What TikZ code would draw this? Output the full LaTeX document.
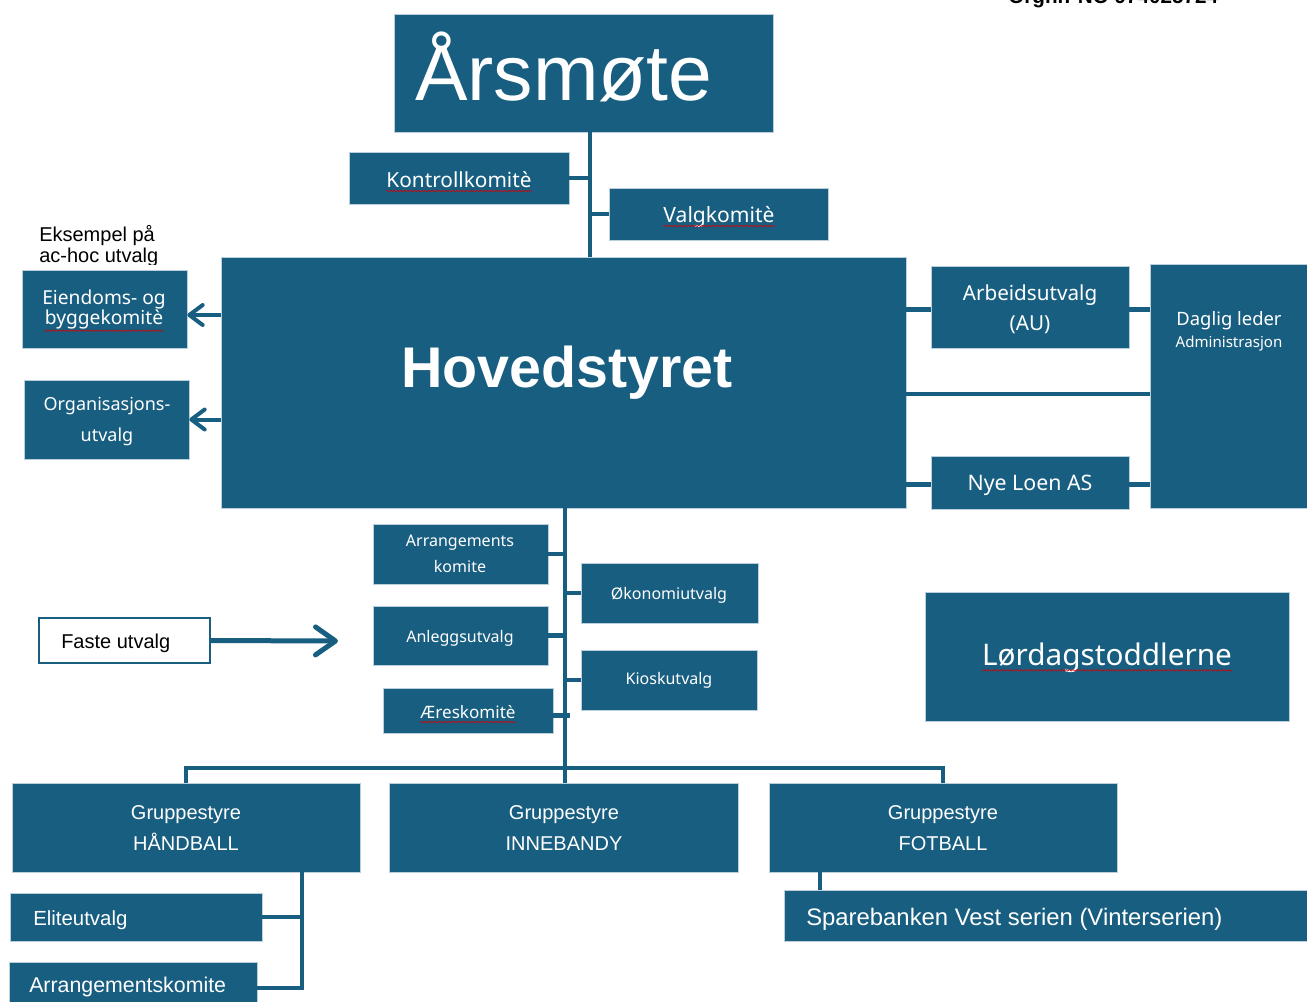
\documentclass[tikz,border=0pt]{standalone}
\usepackage{fontspec}
\setmainfont{Liberation Sans}
\newfontfamily\aptos{Noto Sans}
\usetikzlibrary{fit,arrows.meta,decorations.pathmorphing}
\definecolor{main}{RGB}{24,94,128}
\newcommand\Bx[5]{\node[box, fit={(#2,#3)(#4,#5)}] (#1) {};}
\newcommand\fs[1]{\fontsize{#1}{#1}\selectfont}
\begin{document}
\begin{tikzpicture}[x=0.75pt,y=-0.75pt,
  box/.style={fill=main, draw=white!70!main, line width=0.5pt, inner sep=0pt},
  conn/.style={draw=main, line width=3.6pt},
  wt/.style={text=white, inner sep=0pt, anchor=base},
  at/.style={wt, font=\aptos\fs{#1}},
  ar/.style={wt, font=\fs{#1}},
  sq/.style={draw=red!85!black, line width=0.45pt, decorate, decoration={snake, amplitude=0.55pt, segment length=2.6pt}},
  arrA/.style={draw=main, line width=3pt, -{Straight Barb[length=10pt, width=15pt, round]}},
  arrB/.style={draw=main, line width=3.75pt, -{Straight Barb[length=15pt, width=21pt, round]}}]
\useasboundingbox (0,0) rectangle (1307,1001);
\fill[white] (0,0) rectangle (1307,1001);

% heading at top right, cut off by the page edge as in the reference
\node[anchor=base west, inner sep=0pt, font=\bfseries\fs{15.5}] (orgnr) at (1008,3) {Orgnr. NO 974025724};

% example label (clipped at bottom)
\begin{scope}
  \clip (0,200) rectangle (220,264);
  \node[anchor=base west, inner sep=0pt, font=\fs{15}] (eks1) at (39,241) {Eksempel på};
  \node[anchor=base west, inner sep=0pt, font=\fs{15}] (eks2) at (39,262) {ac-hoc utvalg};
\end{scope}

% boxes
\Bx{ars}{394}{14}{773}{132}
\Bx{kon}{349}{152}{569}{204}
\Bx{val}{609}{188}{828}{240}
\Bx{hov}{221}{257}{906}{508}
\Bx{eie}{22}{270}{187}{348}
\Bx{org}{24}{380}{189}{459}
\Bx{au}{931}{266}{1129}{348}
\Bx{dag}{1150}{264}{1312}{508}
\Bx{nye}{931}{456}{1129}{509}
\Bx{arr}{373}{524}{548}{584}
\Bx{oko}{581}{563}{758}{623}
\Bx{anl}{373}{606}{548}{665}
\Bx{kio}{581}{650}{757}{710}
\Bx{aer}{383}{688}{553}{733}
\Bx{lor}{925}{592}{1289}{721}
\Bx{hb}{12}{783}{360}{872}
\Bx{inn}{389}{783}{738}{872}
\Bx{fb}{769}{783}{1117}{872}
\Bx{eli}{10}{893}{262}{941}
\Bx{ark}{9}{962}{257}{1014}
\Bx{spa}{784}{890}{1312}{941}
\node[draw=main, line width=1.2pt, fill=white, inner sep=0pt, fit={(39,618)(210,663)}] (fas) {};

% coordinates for connector lines
\coordinate (v1) at (590,0);
\coordinate (mid) at (1000,394);
\coordinate (bus) at (565,768);
\coordinate (hv) at (302,0);
\coordinate (fv) at (820,0);
\coordinate (fastetip) at (338,641);

% connectors
\draw[conn] (ars.south -| v1) -- (hov.north -| v1);
\draw[conn] (kon.east) -- (kon.east -| v1);
\draw[conn] (val.west) -- (val.west -| v1);
\draw[arrA] ([yshift=-4.5pt]eie.east -| hov.west) -- ([yshift=-4.5pt]eie.east);
\draw[arrA] (org.east -| hov.west) -- (org.east);
\draw[conn] ([yshift=-2pt]au.west -| hov.east) -- ([yshift=-2pt]au.west);
\draw[conn] ([yshift=-2pt]au.east) -- ([yshift=-2pt]au.east -| dag.west);
\draw[conn] (mid -| hov.east) -- (mid -| dag.west);
\draw[conn] ([yshift=-1.5pt]nye.west -| hov.east) -- ([yshift=-1.5pt]nye.west);
\draw[conn] ([yshift=-1.5pt]nye.east) -- ([yshift=-1.5pt]nye.east -| dag.west);
\draw[conn] (hov.south -| bus) -- (inn.north -| bus);
\draw[conn] (arr.east) -- (arr.east -| bus);
\draw[conn] (oko.west) -- (oko.west -| bus);
\draw[conn] (anl.east) -- (anl.east -| bus);
\draw[conn] (kio.west) -- (kio.west -| bus);
\draw[conn] ([yshift=-4pt]aer.east) -- ++(17,0);
\draw[conn] (hb.north) |- (bus) -| (fb.north);
\draw[conn] (hb.south -| hv) |- (ark.east);
\draw[conn] (eli.east) -- (eli.east -| hv);
\draw[conn] (fb.south -| fv) -- (spa.north -| fv);
\draw[arrB] (fas.east) -- (fastetip);

% texts
\node[ar=59, anchor=base west] (arst) at (415,100) {Årsmøte};
\node[wt, anchor=base west, font=\bfseries\fs{43}] (hovt) at (401,387) {Hovedstyret};
\node[at=15.6] (kont) at (459,187) {Kontrollkomitè};
\node[at=15.8] (valt) at (719,222) {Valgkomitè};
\node[at=14.4] (eie1) at (104,304) {Eiendoms- og};
\node[at=14.4] (eie2) at (104,324) {byggekomitè};
\node[at=13.5] (org1) at (107,410) {Organisasjons-};
\node[at=13.5] (org2) at (107,441) {utvalg};
\node[at=15.5] (au1) at (1030,300) {Arbeidsutvalg};
\node[at=15.5] (au2) at (1030,330) {(AU)};
\node[at=13.8] (dag1) at (1229,325) {Daglig leder};
\node[at=11.3] (dag2) at (1229,347) {Administrasjon};
\node[at=16] (nyet) at (1030,490) {Nye Loen AS};
\node[at=12] (arr1) at (460,546) {Arrangements};
\node[at=12] (arr2) at (460,572) {komite};
\node[at=12] (okot) at (669,599) {Økonomiutvalg};
\node[at=12] (anlt) at (460,642) {Anleggsutvalg};
\node[at=12] (kiot) at (669,684) {Kioskutvalg};
\node[at=12.8] (aert) at (468,718) {Æreskomitè};
\node[at=22.3] (lort) at (1107,665) {Lørdagstoddlerne};
\node[ar=15] (hb1) at (186,819) {Gruppestyre};
\node[ar=15] (hb2) at (186,850) {HÅNDBALL};
\node[ar=15] (inn1) at (564,819) {Gruppestyre};
\node[ar=15] (inn2) at (564,850) {INNEBANDY};
\node[ar=15] (fb1) at (943,819) {Gruppestyre};
\node[ar=15] (fb2) at (943,850) {FOTBALL};
\node[ar=15.3, anchor=base west] (elit) at (33,925) {Eliteutvalg};
\node[ar=16, anchor=base west] (arkt) at (29,992) {Arrangementskomite};
\node[ar=17.9, anchor=base west] (spat) at (806,925) {Sparebanken Vest serien (Vinterserien)};
\node[anchor=base west, inner sep=0pt, font=\fs{15}] (fast) at (61,648) {Faste utvalg};

% spell-check squiggles
\draw[sq] ([yshift=-3pt]kont.base west) -- ([yshift=-3pt]kont.base east);
\draw[sq] ([yshift=-3pt]valt.base west) -- ([yshift=-3pt]valt.base east);
\draw[sq] ([yshift=-5pt]eie2.base west) -- ([yshift=-5pt]eie2.base east);
\draw[sq] ([yshift=-3pt]aert.base west) -- ([yshift=-3pt]aert.base east);
\draw[sq] ([yshift=-4pt]lort.base west) -- ([yshift=-4pt]lort.base east);
\end{tikzpicture}
\end{document}
